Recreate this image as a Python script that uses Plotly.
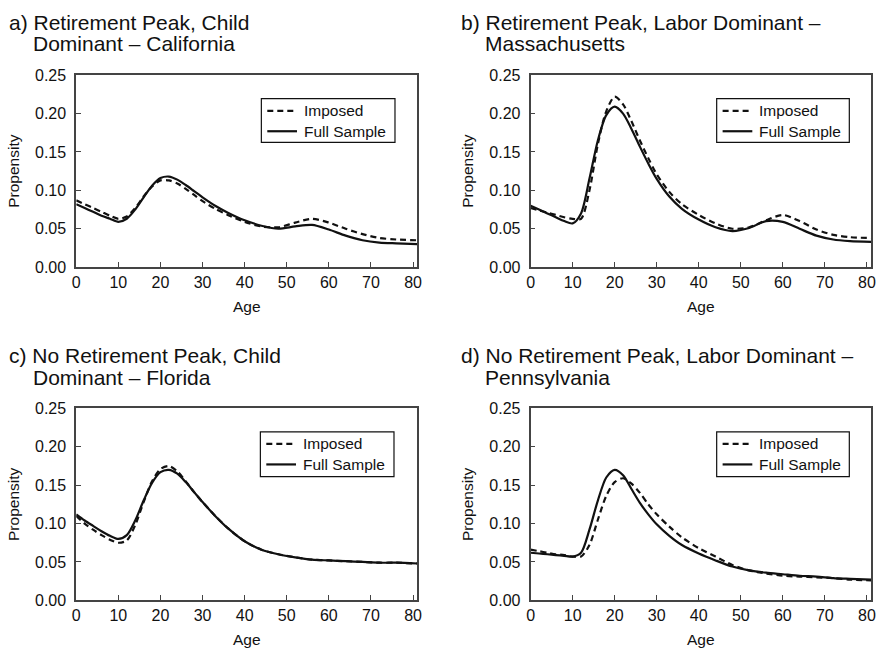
import plotly.graph_objects as go

# Age grid shared by all four panels
ages = [0, 2, 4, 6, 8, 10, 12, 14, 16, 18, 20, 22, 24, 26, 28, 30, 33, 36,
        40, 44, 48, 52, 56, 60, 64, 68, 72, 76, 81]

# a) California
ca_full = [0.082, 0.077, 0.072, 0.067, 0.063, 0.059, 0.063, 0.075, 0.091, 0.106,
           0.116, 0.118, 0.114, 0.107, 0.099, 0.091, 0.080, 0.071, 0.061, 0.054,
           0.050, 0.053, 0.055, 0.049, 0.041, 0.035, 0.032, 0.031, 0.030]
ca_imposed = [0.087, 0.082, 0.077, 0.072, 0.067, 0.063, 0.066, 0.077, 0.092, 0.105,
              0.113, 0.113, 0.109, 0.102, 0.094, 0.086, 0.076, 0.068, 0.059, 0.053,
              0.052, 0.058, 0.063, 0.058, 0.050, 0.043, 0.038, 0.036, 0.035]

# b) Massachusetts
ma_full = [0.080, 0.075, 0.070, 0.065, 0.060, 0.057, 0.070, 0.115, 0.165, 0.198,
           0.209, 0.200, 0.180, 0.157, 0.135, 0.115, 0.092, 0.076, 0.062, 0.052,
           0.047, 0.051, 0.060, 0.059, 0.050, 0.041, 0.036, 0.034, 0.033]
ma_imposed = [0.077, 0.074, 0.071, 0.068, 0.065, 0.063, 0.063, 0.100, 0.160, 0.203,
              0.222, 0.212, 0.190, 0.165, 0.142, 0.121, 0.098, 0.082, 0.068, 0.057,
              0.050, 0.052, 0.061, 0.068, 0.060, 0.049, 0.042, 0.039, 0.038]

# c) Florida
fl_full = [0.112, 0.104, 0.097, 0.090, 0.084, 0.080, 0.085, 0.104, 0.130, 0.153,
           0.167, 0.170, 0.165, 0.154, 0.141, 0.128, 0.110, 0.094, 0.077, 0.066,
           0.060, 0.056, 0.053, 0.052, 0.051, 0.050, 0.049, 0.049, 0.048]
fl_imposed = [0.110, 0.100, 0.092, 0.085, 0.079, 0.075, 0.078, 0.098, 0.128, 0.155,
              0.171, 0.175, 0.168, 0.155, 0.141, 0.128, 0.110, 0.094, 0.077, 0.066,
              0.060, 0.056, 0.053, 0.052, 0.051, 0.050, 0.049, 0.049, 0.048]

# d) Pennsylvania
pa_full = [0.062, 0.061, 0.060, 0.059, 0.058, 0.057, 0.062, 0.092, 0.130, 0.160,
           0.170, 0.163, 0.145, 0.127, 0.112, 0.099, 0.084, 0.072, 0.061, 0.052,
           0.044, 0.039, 0.036, 0.034, 0.032, 0.031, 0.029, 0.028, 0.027]
pa_imposed = [0.066, 0.064, 0.062, 0.060, 0.059, 0.057, 0.057, 0.072, 0.105, 0.136,
              0.154, 0.159, 0.152, 0.140, 0.125, 0.112, 0.096, 0.082, 0.068, 0.057,
              0.046, 0.039, 0.035, 0.032, 0.031, 0.030, 0.029, 0.027, 0.026]

panel_titles = [
    ("a) Retirement Peak, Child", "Dominant \u2013 California"),
    ("b) Retirement Peak, Labor Dominant \u2013", "Massachusetts"),
    ("c) No Retirement Peak, Child", "Dominant \u2013 Florida"),
    ("d) No Retirement Peak, Labor Dominant \u2013", "Pennsylvania"),
]
series_names = ["Imposed", "Full Sample"]
series = [(ca_imposed, ca_full), (ma_imposed, ma_full),
          (fl_imposed, fl_full), (pa_imposed, pa_full)]

x_ticks = [0, 10, 20, 30, 40, 50, 60, 70, 80]
y_ticks = [0.00, 0.05, 0.10, 0.15, 0.20, 0.25]

W, H = 885, 660
FONT = "Liberation Sans, Arial, Helvetica, sans-serif"
INK = "#111111"
FRAME = "#444444"
DASH = "6px,4px"

# pixel layout of the panels: (left, right, top, bottom)
boxes = [(73, 417.5, 69, 266), (532, 876, 69, 266),
         (73, 417.5, 411, 608), (532, 876, 411, 608)]
# legend boxes: (left, right, top, bottom)
legend_boxes = [(260, 395, 93, 138), (720, 854, 93, 138),
                (259, 394, 435, 481), (720, 854, 435, 481)]
# title text: (x line1, x line2, y line1, y line2)
title_pos = [(3, 27, 15, 36), (460, 484, 15, 36),
             (3, 27, 357, 379), (460, 484, 357, 379)]


def px(xp):
    return xp / W


def py(yp):
    return 1 - yp / H


fig = go.Figure()
annotations = []
shapes = []
layout = dict(
    width=W, height=H,
    margin=dict(l=0, r=0, t=0, b=0),
    paper_bgcolor="white", plot_bgcolor="white",
    font=dict(family=FONT, size=15, color=INK),
    showlegend=False,
)

for i, ((imposed, full), box, lbox, tpos, ttl) in enumerate(
        zip(series, boxes, legend_boxes, title_pos, panel_titles)):
    n = "" if i == 0 else str(i + 1)
    fig.add_trace(go.Scatter(
        x=ages, y=imposed, mode="lines", name=series_names[0],
        line=dict(color=INK, width=2.2, dash=DASH, shape="spline", smoothing=0.8),
        xaxis="x" + n, yaxis="y" + n))
    fig.add_trace(go.Scatter(
        x=ages, y=full, mode="lines", name=series_names[1],
        line=dict(color=INK, width=2.2, shape="spline", smoothing=0.8),
        xaxis="x" + n, yaxis="y" + n))

    left, right, top, bottom = box
    axis_common = dict(
        showline=True, linecolor=FRAME, linewidth=1.8, mirror=True,
        ticks="inside", ticklen=5, tickwidth=1.2, tickcolor=FRAME,
        showgrid=False, zeroline=False,
        tickfont=dict(family=FONT, size=16, color=INK),
    )
    layout["xaxis" + n] = dict(
        axis_common, domain=[px(left), px(right)], anchor="y" + n,
        range=[0, 81], tickvals=x_ticks,
        title=dict(text="Age", font=dict(family=FONT, size=15.5, color=INK), standoff=11),
    )
    layout["yaxis" + n] = dict(
        axis_common, domain=[py(bottom), py(top)], anchor="x" + n,
        range=[0, 0.25], tickvals=y_ticks, tickformat=".2f",
        ticklabelstandoff=5,
        title=dict(text="Propensity", font=dict(family=FONT, size=15.5, color=INK), standoff=12),
    )

    # legend frame, line samples and labels
    lx0, lx1, ly0, ly1 = lbox
    shapes.append(dict(type="rect", xref="paper", yref="paper",
                       x0=px(lx0), x1=px(lx1), y0=py(ly1), y1=py(ly0),
                       line=dict(color=INK, width=1.2), fillcolor="white"))
    rows = [ly0 + 12.5, ly0 + 33.5]
    for name, row, dash in zip(series_names, rows, [DASH, "solid"]):
        shapes.append(dict(type="line", xref="paper", yref="paper",
                           x0=px(lx0 + 6), x1=px(lx0 + 36), y0=py(row), y1=py(row),
                           line=dict(color=INK, width=2.2, dash=dash)))
        annotations.append(dict(
            text=name, xref="paper", yref="paper", x=px(lx0 + 41), y=py(row),
            xanchor="left", yanchor="middle", showarrow=False,
            font=dict(family=FONT, size=15.5, color=INK)))

    x1, x2, y1, y2 = tpos
    for txt, tx, ty in [(ttl[0], x1, y1), (ttl[1], x2, y2)]:
        annotations.append(dict(
            text=txt, xref="paper", yref="paper", x=px(tx), y=py(ty),
            xanchor="left", yanchor="middle", showarrow=False,
            font=dict(family=FONT, size=21, color=INK)))

layout["annotations"] = annotations
layout["shapes"] = shapes
fig.update_layout(**layout)
fig.write_html("out.html")
